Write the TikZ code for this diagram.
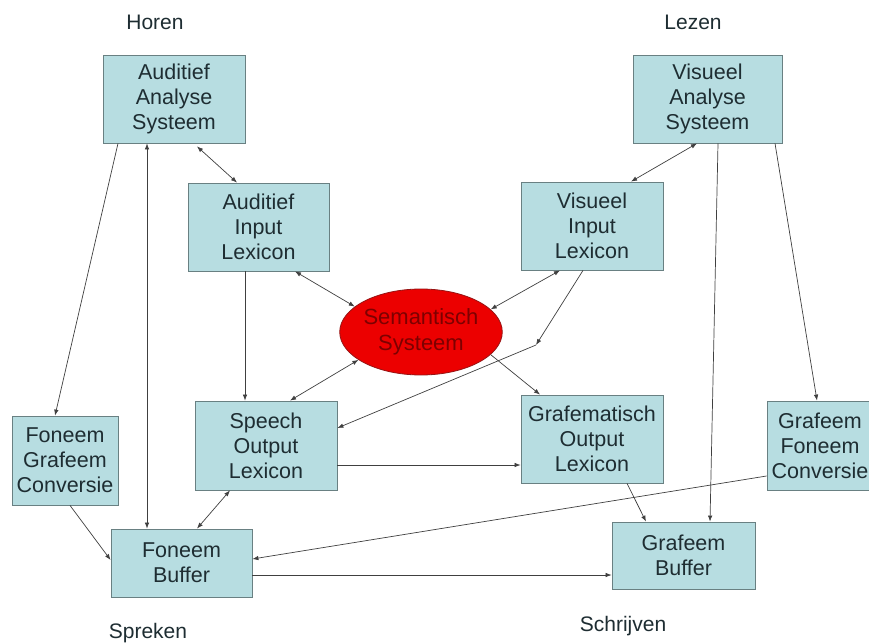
\documentclass[tikz,border=0pt]{standalone}
\usepackage{fontspec}
\setmainfont{Liberation Sans}
\usetikzlibrary{arrows.meta,shapes.geometric,calc}
\definecolor{boxfill}{RGB}{183,221,225}
\definecolor{boxline}{RGB}{105,128,130}
\definecolor{boxtext}{RGB}{30,45,50}
\definecolor{semfill}{RGB}{236,0,0}
\definecolor{semline}{RGB}{150,20,20}
\definecolor{semtext}{RGB}{125,0,0}

\begin{document}
\begin{tikzpicture}[x=1pt, y=-1pt,
  box/.style={draw=boxline, fill=boxfill, line width=0.8pt, text=boxtext, align=center,
    inner sep=0pt, minimum height=88pt, font=\fontsize{21.5}{25}\selectfont},
  lbl/.style={text=boxtext, font=\fontsize{21}{25}\selectfont},
  arr/.style={draw=black!75, line width=0.7pt, -{Latex[length=6pt,width=4.5pt]}},
  darr/.style={draw=black!75, line width=0.7pt, {Latex[length=6pt,width=4.5pt]}-{Latex[length=6pt,width=4.5pt]}}]
  \clip (0,0) rectangle (869,644);
  \fill[white] (0,0) rectangle (869,644);

  \node[lbl] (horen) at (155,22) {Horen};
  \node[lbl] (lezen) at (693,22) {Lezen};
  \node[lbl] (spreken) at (148,633) {Spreken};
  \node[lbl] (schrijven) at (623,626) {Schrijven};

  \node[box, minimum width=142pt] (aas) at (174,99) {Auditief\\Analyse\\Systeem};
  \node[box, minimum width=141pt] (ail) at (258.5,227) {Auditief\\Input\\Lexicon};
  \node[box, minimum width=149pt] (vas) at (707.5,99) {Visueel\\Analyse\\Systeem};
  \node[box, minimum width=142pt] (vil) at (592,226) {Visueel\\Input\\Lexicon};
  \node[ellipse, draw=semline, fill=semfill, line width=0.8pt, text=semtext, align=center,
    inner sep=0pt, minimum width=154pt, minimum height=86pt,
    font=\fontsize{22}{26}\selectfont] (sem) at (421,332) {Semantisch\\Systeem};
  \node[box, minimum width=142pt, minimum height=89pt] (sol) at (266,445.5) {Speech\\Output\\Lexicon};
  \node[box, minimum width=106pt, minimum height=89pt] (fgc) at (65,460.5) {Foneem\\Grafeem\\Conversie};
  \node[box, minimum width=106pt, minimum height=89pt] (gfc) at (820,445.5) {Grafeem\\Foneem\\Conversie};
  \node[box, minimum width=142pt] (gol) at (592,439) {Grafematisch\\Output\\Lexicon};
  \node[box, minimum width=143pt, minimum height=67pt] (gb) at (683.5,555.5) {Grafeem\\Buffer};
  \node[box, minimum width=141pt, minimum height=68pt] (fb) at (181.5,563) {Foneem\\Buffer};

  \coordinate (bend) at (536,345);

  \draw[arr] ([xshift=-56pt]aas.south) -- ([xshift=-10pt]fgc.north);
  \draw[darr] ([xshift=-27pt]aas.south) -- ([xshift=-34.5pt]fb.north);
  \draw[darr] ([xshift=23pt,yshift=-3pt]aas.south) -- ([xshift=-21.5pt]ail.north);
  \draw[darr] ([xshift=36.5pt]ail.south) -- (sem.159);
  \draw[arr] ([xshift=-13.5pt]ail.south) -- ([xshift=-21pt]sol.north);
  \draw[darr] ([xshift=-10.5pt]vas.south) -- ([xshift=39pt]vil.north);
  \draw[darr] ([xshift=-32pt]vil.south) -- (sem.18);
  \draw[arr] ([xshift=-9pt]vil.south) -- (bend);
  \draw[arr] (bend) -- ([yshift=17.5pt]sol.east);
  \draw[darr] (sem.204) -- ([xshift=24pt]sol.north);
  \draw[arr] (sem.-18) -- ([xshift=-52pt]gol.north);
  \draw[arr] ([yshift=-19.5pt]sol.east) -- ([yshift=-19.5pt]sol.east -| gol.west);
  \draw[darr] ([xshift=-36pt]sol.south) -- ([xshift=15.5pt]fb.north);
  \draw[arr] ([xshift=5pt]fgc.south) -- ([yshift=3pt]fb.west);
  \draw[arr] ([yshift=-30.5pt]gfc.west) -- ([yshift=4pt]fb.east);
  \draw[arr] ([yshift=-12pt]fb.east) -- ([yshift=-12pt]fb.east -| gb.west);
  \draw[arr] ([xshift=35pt]gol.south) -- ([xshift=-37.5pt]gb.north);
  \draw[arr] ([xshift=10.5pt]vas.south) -- ([xshift=26.5pt]gb.north);
  \draw[arr] ([xshift=67.5pt]vas.south) -- ([xshift=-3pt]gfc.north);
\end{tikzpicture}
\end{document}
